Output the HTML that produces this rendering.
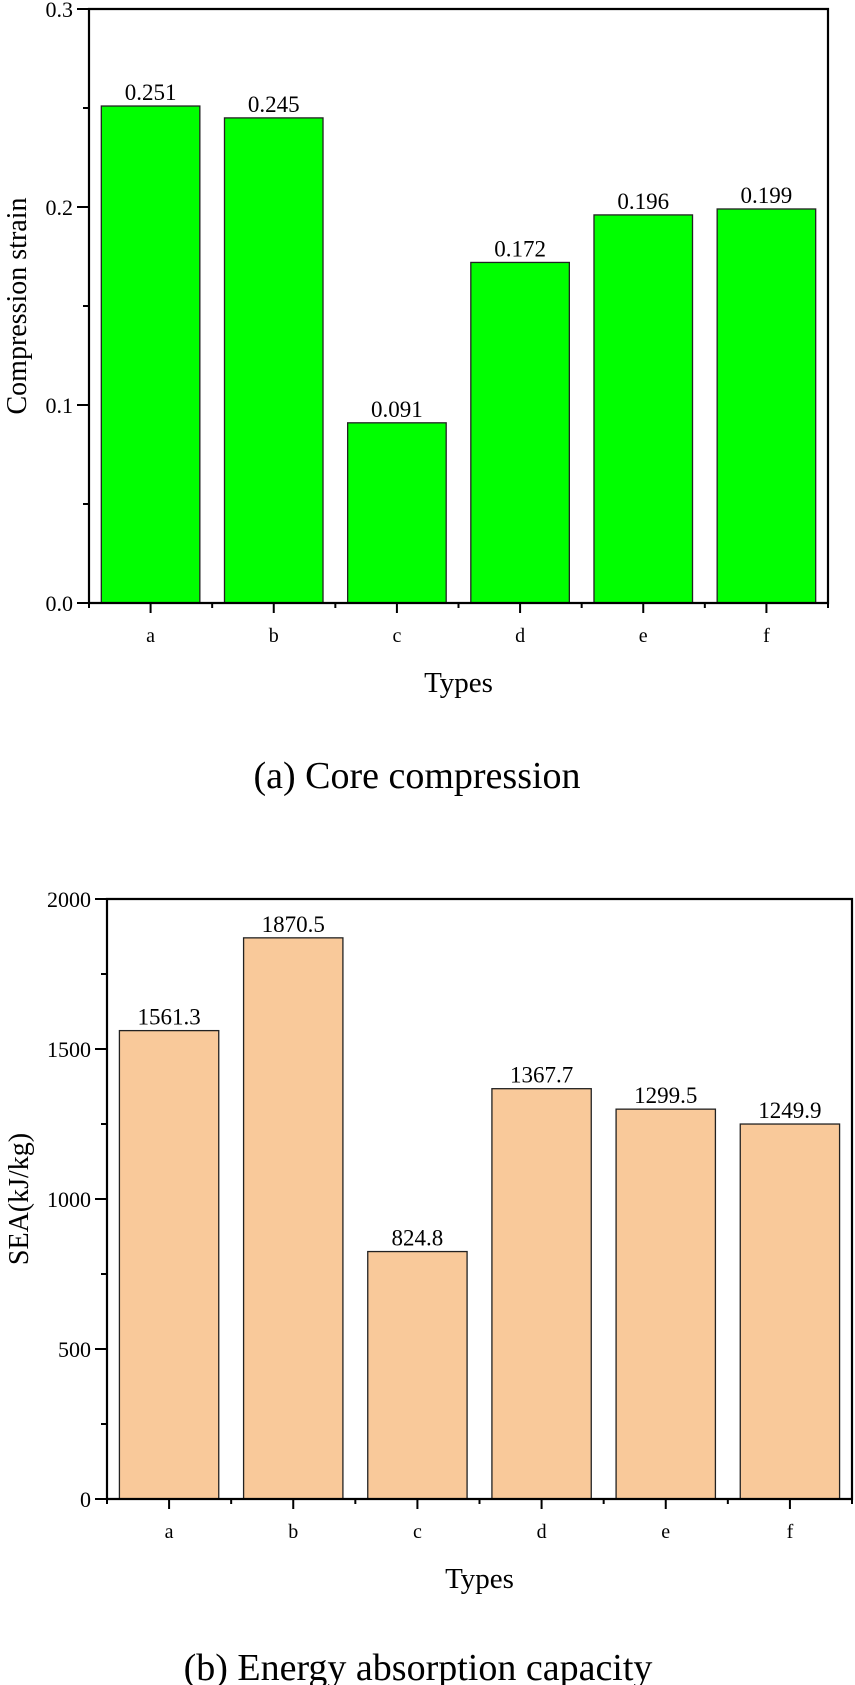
<!DOCTYPE html>
<html><head><meta charset="utf-8"><style>
html,body{margin:0;padding:0;background:#fff;}
svg{display:block;font-family:"Liberation Serif","Times New Roman",serif;}
</style></head><body>
<svg id="root" width="855" height="1685" viewBox="0 0 855 1685">
<g id="chartA"></g>
<g id="chartB"></g>
</svg>
<script>
const categories = ["a","b","c","d","e","f"];
const strainValues = [0.251,0.245,0.091,0.172,0.196,0.199];
const strainLabels = ["0.251","0.245","0.091","0.172","0.196","0.199"];
const strainTicks = [0,0.1,0.2,0.3];
const strainTickLabels = ["0.0","0.1","0.2","0.3"];
const seaValues = [1561.3,1870.5,824.8,1367.7,1299.5,1249.9];
const seaLabels = ["1561.3","1870.5","824.8","1367.7","1299.5","1249.9"];
const seaTicks = [0,500,1000,1500,2000];
const seaTickLabels = ["0","500","1000","1500","2000"];

const NS="http://www.w3.org/2000/svg";
function mk(parent,tag,attrs,text){const e=document.createElementNS(NS,tag);for(const k in attrs)e.setAttribute(k,attrs[k]);if(text!==undefined)e.textContent=text;parent.appendChild(e);return e;}

function drawChart(g,cfg){
  const L=cfg.left,R=cfg.right,T=cfg.top,B=cfg.bottom;
  const y=v=>B-(v-cfg.min)/(cfg.max-cfg.min)*(B-T);
  const cw=(R-L)/cfg.cats.length;
  const x=i=>L+cw*(i+0.5);
  const bw=cw*0.8;
  cfg.vals.forEach((v,i)=>{
    const r=mk(g,"rect",{x:x(i)-bw/2,y:y(v),width:bw,height:B-y(v),fill:cfg.color,stroke:"#222","stroke-width":1.3});
    
    
    const t=mk(g,"text",{x:x(i),y:y(v)-6,"text-anchor":"middle","font-size":23},cfg.labels[i]);
    
    
  });
  // frame
  const f=mk(g,"path",{d:`M${L} ${T} H${R} V${B} H${L} Z`,fill:"none",stroke:"#000","stroke-width":2.2});
  
  
  // y ticks
  cfg.ticks.forEach((v,i)=>{
    mk(g,"line",{x1:L-12,x2:L,y1:y(v),y2:y(v),stroke:"#000","stroke-width":2});
    const t=mk(g,"text",{x:L-16,y:y(v)+8,"text-anchor":"end","font-size":22},cfg.tickLabels[i]);
    
    
    if(i<cfg.ticks.length-1){
      const m=(v+cfg.ticks[i+1])/2;
      mk(g,"line",{x1:L-6,x2:L,y1:y(m),y2:y(m),stroke:"#000","stroke-width":2});
    }
  });
  // x ticks
  for(let i=0;i<=cfg.cats.length;i++){
    mk(g,"line",{x1:L+cw*i,x2:L+cw*i,y1:B,y2:B+5,stroke:"#000","stroke-width":2});
  }
  cfg.cats.forEach((c,i)=>{
    mk(g,"line",{x1:x(i),x2:x(i),y1:B,y2:B+10,stroke:"#000","stroke-width":2});
    const t=mk(g,"text",{x:x(i),y:cfg.catY,"text-anchor":"middle","font-size":20},c);
    
    
  });
  const xt=mk(g,"text",{x:(L+R)/2,y:cfg.typesY,"text-anchor":"middle","font-size":29},"Types");
  
  
  const yt=mk(g,"text",{x:0,y:0,"text-anchor":"middle","font-size":28,transform:`translate(${cfg.yTitleX},${(T+B)/2}) rotate(-90)`},cfg.yTitle);
  
  
  const cp=mk(g,"text",{x:cfg.capX,y:cfg.capY,"text-anchor":"middle","font-size":38},cfg.caption);
  
  
}

drawChart(document.getElementById("chartA"),{left:89,right:828,top:9,bottom:603,min:0,max:0.3,
  cats:categories,vals:strainValues,labels:strainLabels,ticks:strainTicks,tickLabels:strainTickLabels,
  color:"#00ff00",catY:642,typesY:692,yTitle:"Compression strain",yTitleX:26,caption:"(a) Core compression",capX:417,capY:788});
drawChart(document.getElementById("chartB"),{left:107,right:852,top:899,bottom:1499,min:0,max:2000,
  cats:categories,vals:seaValues,labels:seaLabels,ticks:seaTicks,tickLabels:seaTickLabels,
  color:"#f9c99a",catY:1538,typesY:1588,yTitle:"SEA(kJ/kg)",yTitleX:28,caption:"(b) Energy absorption capacity",capX:418,capY:1680});
</script>
</body></html>
